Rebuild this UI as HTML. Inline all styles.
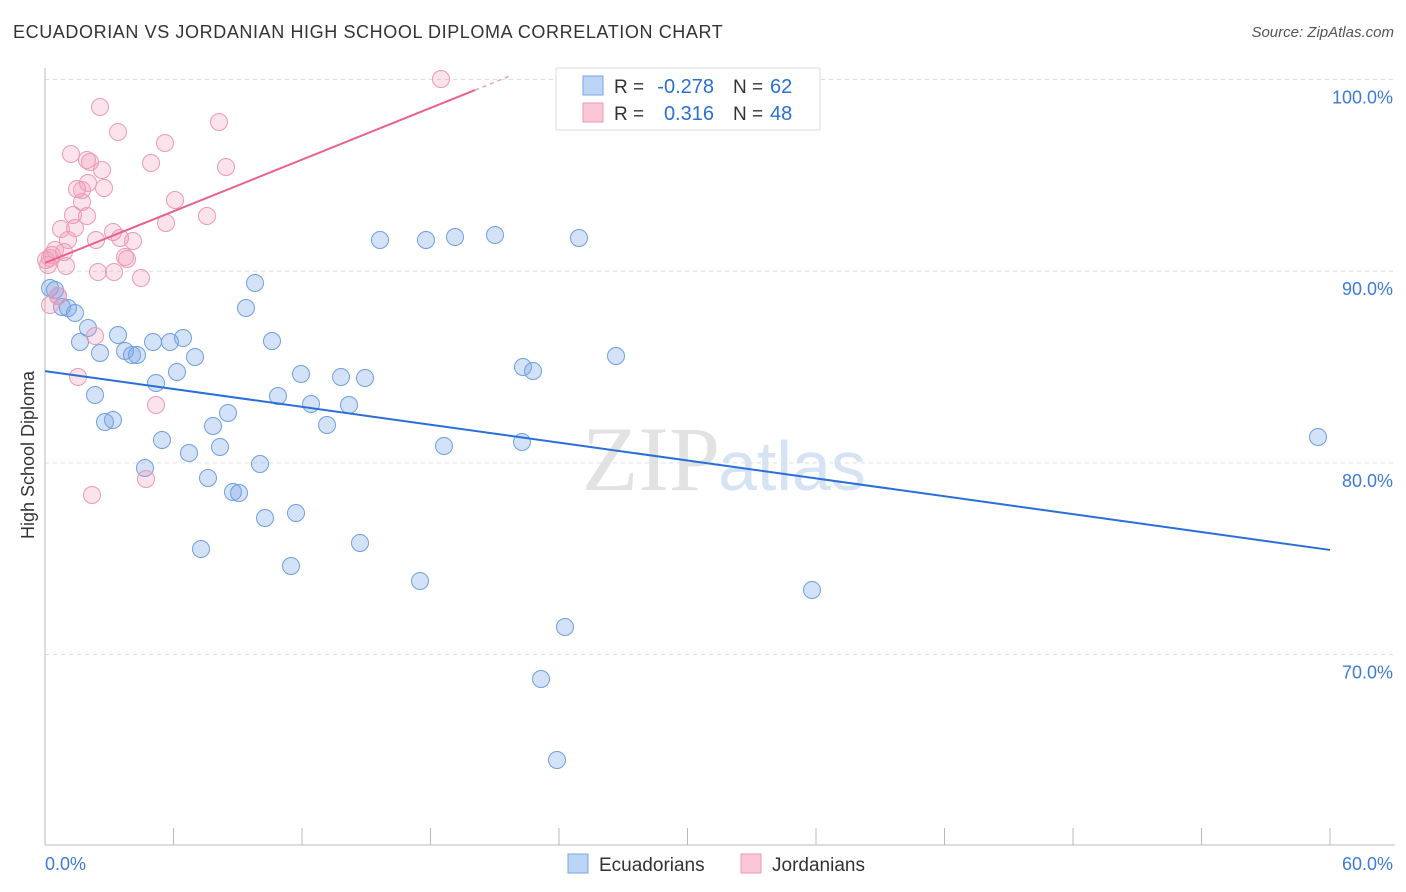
<!DOCTYPE html>
<html><head><meta charset="utf-8">
<style>
body{margin:0;background:#fff;font-family:"Liberation Sans",sans-serif;}
#wrap{position:relative;width:1406px;height:892px;overflow:hidden;}
.t{position:absolute;white-space:nowrap;}
</style></head>
<body>
<div id="wrap">
<div class="t" style="left:13px;top:22px;font-size:18px;color:#333;letter-spacing:0.6px">ECUADORIAN VS JORDANIAN HIGH SCHOOL DIPLOMA CORRELATION CHART</div>
<div class="t" style="right:12px;top:24px;font-size:15px;color:#555;font-style:italic">Source: ZipAtlas.com</div>
<svg id="svg" width="1406" height="892" style="position:absolute;left:0;top:0"></svg>
</div>
<script>
const xTicksPct=[0,6,12,18,24,30,36,42,48,54,60];
const yGrid=[100,90,80,70];
const bluePts=[[50,288],[55,290],[58,296],[62,307],[68,308],[75,313],[88,328],[80,342],[100,353],[95,395],[105,422],[113,420],[118,335],[125,351],[132,355],[137,355],[153,342],[170,342],[183,338],[195,357],[177,372],[156,383],[162,440],[145,468],[189,453],[213,426],[228,413],[220,447],[208,478],[233,492],[239,493],[260,464],[265,518],[201,549],[255,283],[246,308],[272,341],[278,396],[301,374],[311,404],[327,425],[341,377],[349,405],[365,378],[296,513],[291,566],[360,543],[420,581],[380,240],[426,240],[455,237],[495,235],[579,238],[444,446],[522,442],[523,367],[533,371],[616,356],[565,627],[541,679],[557,760],[812,590],[1318,437]].map(p=>[(p[0]-45)/1285*60,100-(p[1]-79.5)/19.17]);
const pinkPts=[[100,107],[118,132],[165,143],[219,122],[441,79],[71,154],[87,160],[90,162],[102,170],[151,163],[226,167],[77,189],[82,190],[104,188],[88,183],[175,200],[82,202],[73,215],[87,216],[207,216],[166,223],[61,229],[75,228],[113,232],[96,240],[68,240],[120,238],[133,241],[55,250],[64,252],[50,258],[46,260],[66,266],[98,272],[114,272],[127,259],[141,278],[50,305],[95,336],[78,377],[156,405],[146,479],[92,495],[58,296],[52,255],[125,257],[48,265]].map(p=>[(p[0]-45)/1285*60,100-(p[1]-79.5)/19.17]);
const blueLine=[84.79,75.46];
const pinkLine=[90.43,99.45,20.08];
const X=v=>45+v/60*1285, Y=v=>79.5+(100-v)*19.17;
const svg=document.getElementById('svg');const NS='http://www.w3.org/2000/svg';
function mk(tag,a,par){const e=document.createElementNS(NS,tag);for(const k in a)e.setAttribute(k,a[k]);(par||svg).appendChild(e);return e;}
let e;
e=mk('text',{x:720,y:490,'font-size':92,'font-family':'Liberation Serif',fill:'#e2e2e2','text-anchor':'end'});e.textContent='ZIP';


e=mk('text',{x:718,y:490,'font-size':70,'font-family':'Liberation Sans',fill:'#d6e3f3'});e.textContent='atlas';


yGrid.forEach(g=>{e=mk('line',{x1:45,x2:1395,y1:Y(g),y2:Y(g),stroke:'#ddd','stroke-dasharray':'4,4'});


e=mk('text',{x:1393,y:Y(g)+24,'font-size':18,fill:'#3d7bd6','text-anchor':'end'});e.textContent=g.toFixed(1)+'%';

});
e=mk('line',{x1:45,x2:45,y1:68,y2:845,stroke:'#bbb'});


e=mk('line',{x1:45,x2:1395,y1:845,y2:845,stroke:'#bbb'});


xTicksPct.forEach(t=>{e=mk('line',{x1:X(t),x2:X(t),y1:828,y2:845,stroke:'#bbb'});

});
e=mk('text',{x:45,y:870,'font-size':18,fill:'#3d7bd6'});e.textContent='0.0%';


e=mk('text',{x:1393,y:870,'font-size':18,fill:'#3d7bd6','text-anchor':'end'});e.textContent='60.0%';


e=mk('text',{x:34,y:455,'font-size':18,fill:'#333','text-anchor':'middle',transform:'rotate(-90 34 455)'});e.textContent='High School Diploma';


bluePts.forEach(p=>{e=mk('circle',{cx:X(p[0]),cy:Y(p[1]),r:8.5,fill:'rgba(120,165,230,0.32)',stroke:'#6e9fe0','stroke-width':1});

});
pinkPts.forEach(p=>{e=mk('circle',{cx:X(p[0]),cy:Y(p[1]),r:8.5,fill:'rgba(240,150,180,0.27)',stroke:'#eb9ab6','stroke-width':1});

});
e=mk('line',{x1:X(0),y1:Y(blueLine[0]),x2:X(60),y2:Y(blueLine[1]),stroke:'#2a6fd6','stroke-width':2});


e=mk('line',{x1:X(0),y1:Y(pinkLine[0]),x2:X(pinkLine[2]),y2:Y(pinkLine[1]),stroke:'#e8628f','stroke-width':2});


const slope=(pinkLine[1]-pinkLine[0])/pinkLine[2];
e=mk('line',{x1:X(pinkLine[2]),y1:Y(pinkLine[1]),x2:X(pinkLine[2]+1.7),y2:Y(pinkLine[1]+slope*1.7),stroke:'#e8a0b8','stroke-width':1.5,'stroke-dasharray':'4,4'});


const lg=mk('g',{});


mk('rect',{x:556,y:68,width:264,height:62,fill:'#fff',stroke:'#ddd'},lg);
mk('rect',{x:583,y:76,width:20,height:19,fill:'#bcd4f5',stroke:'#7aa6e3'},lg);
mk('rect',{x:583,y:103,width:20,height:19,fill:'#f9c7d6',stroke:'#eb9ab6'},lg);
const rows=[['R = ','-0.278','N = ','62',93],['R = ',' 0.316','N = ','48',120]];
rows.forEach(r=>{e=mk('text',{x:614,y:r[4],'font-size':19,fill:'#333'},lg);e.textContent=r[0];
e=mk('text',{x:714,y:r[4],'font-size':20,fill:'#2a6fd6','text-anchor':'end'},lg);e.textContent=r[1];
e=mk('text',{x:733,y:r[4],'font-size':19,fill:'#333'},lg);e.textContent=r[2];
e=mk('text',{x:770,y:r[4],'font-size':20,fill:'#2a6fd6'},lg);e.textContent=r[3];});
e=mk('rect',{x:568,y:854,width:20,height:19,fill:'#bcd4f5',stroke:'#7aa6e3'});


e=mk('text',{x:599,y:871,'font-size':19,fill:'#333'});e.textContent='Ecuadorians';


e=mk('rect',{x:741,y:854,width:20,height:19,fill:'#f9c7d6',stroke:'#eb9ab6'});


e=mk('text',{x:772,y:871,'font-size':19,fill:'#333'});e.textContent='Jordanians';


</script>
</body></html>
